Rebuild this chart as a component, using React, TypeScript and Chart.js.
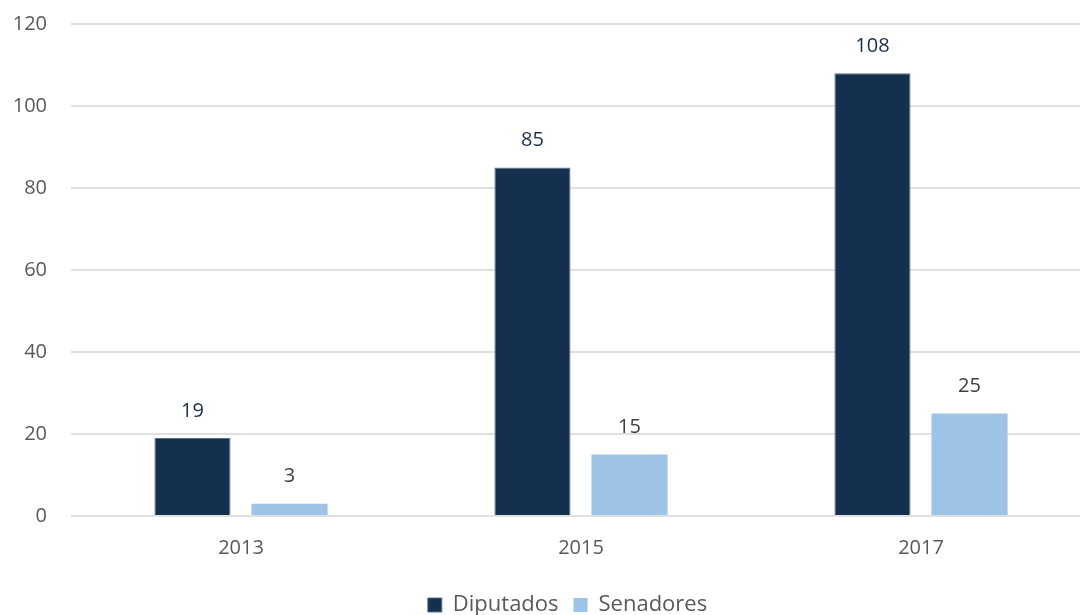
import React, { useEffect, useRef } from "react";
import { Chart, registerables } from "chart.js";

Chart.register(...registerables);

const categories = ["2013", "2015", "2017"];
const diputados = [19, 85, 108];
const senadores = [3, 15, 25];
const yTicks = [0, 20, 40, 60, 80, 100, 120];

const FONT = "'Open Sans', 'Noto Sans', sans-serif";

const barLabels = {
  id: "barLabels",
  afterLayout(chart: any) {
    if (chart.legend) {
      chart.legend.left += 22;
      chart.legend.right += 22;
    }
  },
  afterDatasetsDraw(chart: any) {
    const ctx = chart.ctx;
    ctx.save();
    ctx.font = `20px ${FONT}`;
    ctx.textAlign = "center";
    ctx.textBaseline = "middle";
    chart.data.datasets.forEach((ds: any, i: number) => {
      const meta = chart.getDatasetMeta(i);
      ctx.fillStyle = i === 0 ? "#1b2f4b" : "#404040";
      meta.data.forEach((el: any, j: number) => {
        ctx.fillText(String(ds.data[j]), el.x, el.y - 27);
      });
    });
    ctx.restore();
  },
};

export default function App() {
  const ref = useRef<HTMLCanvasElement | null>(null);
  useEffect(() => {
    if (!ref.current) return;
    const chart = new Chart(ref.current, {
      type: "bar",
      data: {
        labels: categories,
        datasets: [
          {
            label: "Diputados",
            data: diputados,
            backgroundColor: "#14304e",
            borderColor: "#5d6f86",
            borderWidth: 1,
            categoryPercentage: 0.571,
            barPercentage: 0.784,
          },
          {
            label: "Senadores",
            data: senadores,
            backgroundColor: "#9dc3e6",
            borderWidth: 0,
            categoryPercentage: 0.571,
            barPercentage: 0.784,
          },
        ],
      },
      options: {
        animation: false,
        responsive: true,
        maintainAspectRatio: false,
        layout: { padding: { top: 24, right: 9, left: 0, bottom: 0 } },
        plugins: {
          legend: {
            position: "bottom",
            labels: {
              font: { family: FONT, size: 22 },
              color: "#595959",
              boxWidth: 14,
              boxHeight: 14,
              padding: 15,
              useBorderRadius: false,
            },
          },
          tooltip: { enabled: false },
        },
        scales: {
          x: {
            grid: { display: false, drawTicks: false },
            border: { display: false },
            ticks: {
              font: { family: FONT, size: 20 },
              color: "#595959",
              padding: 20,
            },
            afterFit: (s: any) => {
              s.height = 63;
            },
          },
          y: {
            min: 0,
            max: 120,
            afterBuildTicks: (s: any) => {
              s.ticks = yTicks.map((v) => ({ value: v }));
            },
            grid: { color: "#e0e0e0", lineWidth: 2, drawTicks: false },
            border: { display: false },
            ticks: {
              font: { family: FONT, size: 20 },
              color: "#595959",
              padding: 24,
            },
            afterFit: (s: any) => {
              s.width = 71;
              s.paddingTop = 12;
            },
          },
        },
      },
      plugins: [barLabels],
    });
    return () => chart.destroy();
  }, []);
  return (
    <div
      style={{
        position: "fixed",
        left: 0,
        top: 0,
        width: 1100,
        height: 626,
        background: "#fff",
      }}
    >
      <canvas ref={ref} />
    </div>
  );
}
